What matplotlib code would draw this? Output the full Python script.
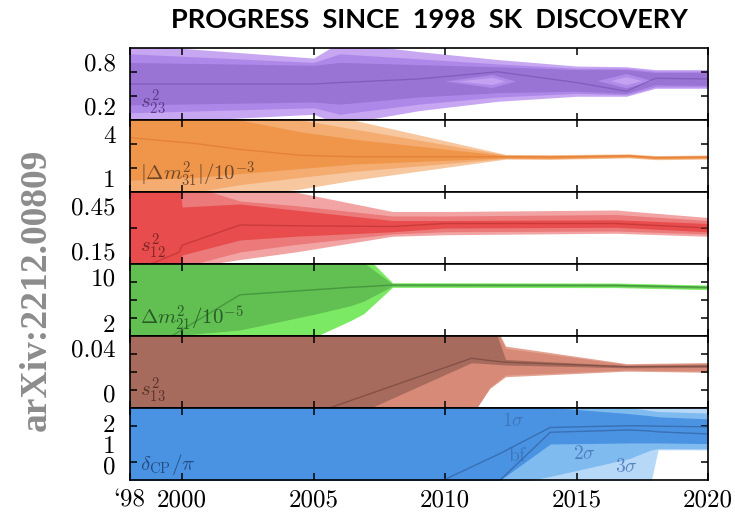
import numpy as np
import matplotlib.pyplot as plt

plt.rcParams['mathtext.fontset'] = 'cm'

# ---- s23 (purple) ----
s23_yr  = [1998, 2005, 2006, 2009, 2012, 2015, 2016.9, 2018, 2020]
s23_hi3 = [1.05, 0.86, 1.08, 0.95, 0.84, 0.75, 0.74, 0.70, 0.70]
s23_hi2 = [0.92, 0.80, 0.92, 0.85, 0.78, 0.72, 0.72, 0.68, 0.68]
s23_hi1 = [0.80, 0.76, 0.80, 0.77, 0.74, 0.70, 0.70, 0.66, 0.66]
s23_bf  = [0.50, 0.50, 0.52, 0.57, 0.67, 0.52, 0.40, 0.58, 0.57]
s23_lo1 = [0.21, 0.25, 0.22, 0.32, 0.38, 0.40, 0.37, 0.49, 0.48]
s23_lo2 = [0.10, 0.17, 0.08, 0.22, 0.32, 0.37, 0.35, 0.46, 0.46]
s23_lo3 = [-0.05, 0.08, -0.06, 0.13, 0.26, 0.33, 0.33, 0.44, 0.44]
# octant holes: (left, tip, right, centre, half height)
s23_holes = [(2010.0, 2011.8, 2012.7, 0.535, 0.09),
             (2015.8, 2016.9, 2017.9, 0.54, 0.10)]

# ---- |dm31^2| / 1e-3 (orange) ----
m31_yr  = [1998, 2000.5, 2002.2, 2004.5, 2006.5, 2012.3, 2014, 2017, 2018, 2020]
m31_hi3 = [6.0, 6.0, 6.0, 6.0, 5.0, 2.66, 2.64, 2.70, 2.58, 2.62]
m31_hi2 = [6.0, 6.0, 6.0, 5.0, 4.4, 2.62, 2.60, 2.66, 2.54, 2.58]
m31_hi1 = [6.0, 6.0, 5.0, 4.2, 3.7, 2.58, 2.56, 2.62, 2.50, 2.54]
m31_bf  = [3.8, 3.4, 3.0, 2.6, 2.5, 2.5, 2.48, 2.56, 2.44, 2.48]
m31_lo1 = [0.9, 1.1, 1.35, 1.7, 2.0, 2.42, 2.40, 2.50, 2.38, 2.42]
m31_lo2 = [-1.0, 0.1, 0.6, 1.1, 1.5, 2.38, 2.36, 2.46, 2.34, 2.38]
m31_lo3 = [-1.0, -1.0, -0.2, 0.3, 0.9, 2.34, 2.32, 2.42, 2.30, 2.34]

# ---- s12 (red) ----
s12_yr  = [1998, 1999.9, 2000, 2002.2, 2004.3, 2008, 2010, 2016.5, 2020]
s12_hi3 = [0.60, 0.60, 0.60, 0.60, 0.54, 0.41, 0.41, 0.42, 0.37]
s12_hi2 = [0.60, 0.60, 0.60, 0.48, 0.45, 0.38, 0.38, 0.39, 0.35]
s12_hi1 = [0.60, 0.60, 0.44, 0.46, 0.42, 0.35, 0.35, 0.355, 0.33]
s12_bf  = [0.00, 0.14, 0.185, 0.32, 0.315, 0.31, 0.33, 0.33, 0.30]
s12_lo1 = [0.00, 0.00, 0.12, 0.22, 0.245, 0.275, 0.30, 0.305, 0.275]
s12_lo2 = [0.00, 0.00, 0.04, 0.14, 0.19, 0.26, 0.275, 0.28, 0.26]
s12_lo3 = [0.00, 0.00, 0.03, 0.09, 0.14, 0.245, 0.255, 0.265, 0.245]

# ---- dm21^2 / 1e-5 (green) ----
m21_yr  = [1998, 1999.6, 2002.2, 2005.1, 2006.4, 2006.9, 2008, 2016.5, 2020]
m21_hi3 = [14, 14, 14, 14, 14, 14, 9.0, 8.95, 8.6]
m21_hi2 = [14, 14, 14, 14, 14, 14, 8.9, 8.85, 8.5]
m21_hi1 = [14, 14, 14, 14, 14, 12.5, 8.8, 8.75, 8.4]
m21_bf  = [-2, -0.25, 6.9, 7.8, 8.2, 8.3, 8.6, 8.55, 8.2]
m21_lo1 = [-2, -0.25, 0.8, 3.6, 5.0, 5.8, 8.4, 8.35, 8.0]
m21_lo2 = [-2, -2, -2, -0.25, 2.5, 3.7, 8.3, 8.25, 7.9]
m21_lo3 = [-2, -2, -2, -0.3, 2.4, 3.6, 8.2, 8.15, 7.8]

# ---- s13 (brown) ----
s13_yr  = [1998, 2005.6, 2011.0, 2011.2, 2011.7, 2012.3, 2016.9, 2020]
s13_hi3 = [0.07, 0.07, 0.07, 0.07, 0.07, 0.042, 0.0262, 0.0272]
s13_hi2 = [0.07, 0.07, 0.07, 0.07, 0.07, 0.040, 0.0255, 0.0265]
s13_hi1 = [0.07, 0.07, 0.07, 0.07, 0.07, 0.030, 0.0245, 0.0250]
s13_bf  = [-0.03, -0.0135, 0.031, 0.0305, 0.029, 0.0275, 0.0235, 0.0240]
s13_lo1 = [-0.03, -0.03, 0.027, 0.0268, 0.026, 0.025, 0.0225, 0.0228]
s13_lo2 = [-0.03, -0.03, -0.03, -0.0135, 0.005, 0.016, 0.0205, 0.0195]
s13_lo3 = [-0.03, -0.03, -0.03, -0.0135, 0.004, 0.0145, 0.0195, 0.0185]

# ---- delta_CP / pi (blue) ----
dcp_yr   = [1998, 2010, 2012.1, 2014, 2017, 2017.8, 2018.1, 2020]
dcp_hi3  = [3.0, 3.0, 3.0, 3.0, 3.0, 3.0, 3.0, 3.0]
dcp_hi2  = [3.0, 3.0, 3.0, 3.0, 2.75, 2.6, 2.55, 2.48]
dcp_hi1  = [3.0, 3.0, 3.0, 2.75, 2.45, 2.35, 2.3, 2.2]
dcp_lo1  = [-1.0, -1.0, -0.72, 1.0, 1.05, 1.05, 1.05, 1.02]
dcp_lo2  = [-1.0, -1.0, -1.0, -0.55, 0.3, 0.7, 0.78, 0.77]
dcp_lo3  = [-1.0, -1.0, -1.0, -1.0, -1.0, -1.0, 0.72, 0.72]
dcp_bfA  = [-3.0, -0.69, 0.55, 1.79, 1.87, 1.86, 1.85, 1.82]
dcp_bfB  = [-3.0, -3.0, -0.72, 1.56, 1.67, 1.62, 1.58, 1.48]
# region labels: (year, value, text)
dcp_notes = [(2012.6, 2.1, r'$1\sigma$'), (2012.75, 0.46, r'$\rm bf$'),
             (2015.3, 0.54, r'$2\sigma$'), (2016.9, -0.09, r'$3\sigma$')]

years_tick = [1998, 2000, 2005, 2010, 2015, 2020]
years_lab = ['`98', '2000', '2005', '2010', '2015', '2020']

fig = plt.figure(figsize=(7.35, 5.18), dpi=100)
left, right, top, bottom = 0.1762, 0.9633, 0.9073, 0.0734
h = (top - bottom) / 6

panels = [
    # data, ylim, labelled values, tick fractions, colours, label
    dict(yr=s23_yr, bands=[s23_lo3, s23_hi3, s23_lo2, s23_hi2, s23_lo1, s23_hi1], bf=[s23_bf],
         ylim=(0, 1), labs=[(0.8, '0.8'), (0.2, '0.2')], marks=[1/3, 2/3],
         cols=['#c7a6f2', '#ae88e8', '#9a74d5'], lc='#7b58ba', txt=r'$s^2_{23}$', tc='#4a3275'),
    dict(yr=m31_yr, bands=[m31_lo3, m31_hi3, m31_lo2, m31_hi2, m31_lo1, m31_hi1], bf=[m31_bf],
         ylim=(0.1, 5.0), labs=[(4, '4'), (1, '1')], marks=[1/3, 2/3],
         cols=['#f7c7a0', '#f4ac70', '#f0964b'], lc='#e47c36', txt=r'$|\Delta m^2_{31}|/10^{-3}$', tc='#5a3a22'),
    dict(yr=s12_yr, bands=[s12_lo3, s12_hi3, s12_lo2, s12_hi2, s12_lo1, s12_hi1], bf=[s12_bf],
         ylim=(0.06, 0.54), labs=[(0.45, '0.45'), (0.15, '0.15')], marks=[0.5],
         cols=['#f2a4a4', '#ec7a7a', '#e84c4c'], lc='#c23636', txt=r'$s^2_{12}$', tc='#6a1e1e'),
    dict(yr=m21_yr, bands=[m21_lo3, m21_hi3, m21_lo2, m21_hi2, m21_lo1, m21_hi1], bf=[m21_bf],
         ylim=(-0.25, 12.25), labs=[(10, '10'), (2, '2')], marks=[0.25, 0.5, 0.75],
         cols=['#86f06e', '#7be963', '#62bf52'], lc='#3f8f3a', txt=r'$\Delta m^2_{21}/10^{-5}$', tc='#1f4a1f'),
    dict(yr=s13_yr, bands=[s13_lo3, s13_hi3, s13_lo2, s13_hi2, s13_lo1, s13_hi1], bf=[s13_bf],
         ylim=(-0.0135, 0.051), labs=[(0.04, '0.04'), (0, '0')], marks=[0.25, 0.5, 0.75],
         cols=['#e3a392', '#d88a78', '#a66b5d'], lc='#7d4a40', txt=r'$s^2_{13}$', tc='#4a2a24'),
    dict(yr=dcp_yr, bands=[dcp_lo3, dcp_hi3, dcp_lo2, dcp_hi2, dcp_lo1, dcp_hi1], bf=[dcp_bfA, dcp_bfB],
         ylim=(-0.72, 2.72), labs=[(2, '2'), (1, '1'), (0, '0')], marks=[0.25, 0.5, 0.75],
         cols=['#b8d8f7', '#80bbf0', '#4a93e2'], lc='#3566a8', txt=r'$\delta_{\rm CP}/\pi$', tc='#1f3f70'),
]

axes = []
for i, p in enumerate(panels):
    ax = fig.add_axes([left, top - (i + 1) * h, right - left, h])
    yr = p['yr']
    b = p['bands']
    for k in range(3):
        ax.fill_between(yr, b[2 * k], b[2 * k + 1], color=p['cols'][k], lw=0)
    for line in p['bf']:
        ax.plot(yr, line, color=p['lc'], lw=1.0, alpha=0.8)
    ax.set_xlim(1998, 2020)
    ax.set_ylim(*p['ylim'])
    y0, y1 = p['ylim']
    ax.set_yticks([v for v, s in p['labs']])
    ax.set_yticklabels([s for v, s in p['labs']], fontfamily='cmr10', fontsize=18)
    ax.set_yticks([y0 + f * (y1 - y0) for f in p['marks']], minor=True)
    ax.tick_params(axis='y', which='major', length=0, pad=10)
    ax.tick_params(axis='y', which='minor', direction='in', length=5, width=1.1, left=True, right=True)
    ax.set_xticks(years_tick)
    ax.tick_params(axis='x', direction='in', length=5, width=1.1, top=True, bottom=True)
    if i < 5:
        ax.set_xticklabels([])
    else:
        ax.set_xticklabels(years_lab, fontfamily='cmr10', fontsize=18)
        ax.tick_params(axis='x', pad=7)
    for s in ax.spines.values():
        s.set_linewidth(1.2)
    ax.text(0.018, 0.04, p['txt'], transform=ax.transAxes, fontsize=15,
            color=p['tc'], alpha=0.85, ha='left', va='bottom')
    axes.append(ax)

# octant holes inside the s23 1-sigma band
for xl, xm, xr, yc, hh in s23_holes:
    axes[0].fill([xl, xm, xr, xm], [yc, yc + hh, yc, yc - hh], color='#b08ae8', lw=0)
    axes[0].fill([xl + 0.5, xm, xr - 0.4, xm], [yc, yc + hh * 0.55, yc, yc - hh * 0.55],
                 color='#c4a2f2', lw=0)

# region labels in the delta_CP panel
for x, y, s in dcp_notes:
    axes[5].text(x, y, s, fontsize=14, color='#3a6cb0', alpha=0.75, ha='center', va='center')

fig.text(0.584, 0.961, 'PROGRESS  SINCE  1998  SK  DISCOVERY', fontsize=19.5,
         fontweight='bold', fontfamily='Lato', ha='center', va='center')
fig.text(0.05, 0.44, 'arXiv:2212.00809', rotation=90, fontsize=27, fontweight='bold',
         fontfamily='Liberation Serif', color='#8c8c8c', ha='center', va='center')

fig.savefig('out.png', dpi=100)
